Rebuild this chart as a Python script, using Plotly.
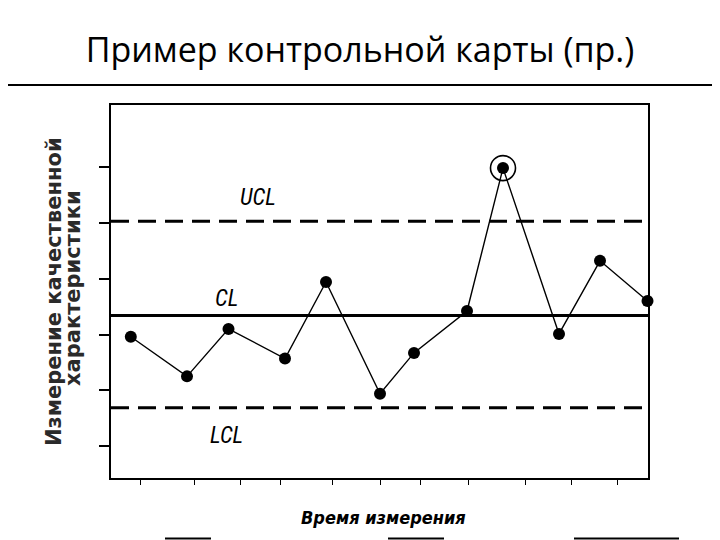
import plotly.graph_objects as go

# Data
time_values = [1.98, 7.6, 11.75, 17.4, 21.5, 26.9, 30.3, 35.6, 39.2, 44.8, 48.9, 53.65]
measurements = [2.96, 2.25, 3.10, 2.57, 3.94, 1.94, 2.67, 3.42, 5.98, 3.01, 4.32, 3.60]
out_of_control_index = 8
cl_value = 3.34
ucl_value = 5.03
lcl_value = 1.69
x_tick_values = [2.9, 8.3, 12.9, 16.9, 22.1, 26.9, 30.9, 35.7, 41.4, 46.0, 50.6]
y_tick_values = [1, 2, 3, 4, 5, 6]
limit_labels = ["UCL", "CL", "LCL"]
limit_label_x = [14.7, 11.5, 11.5]
limit_label_y = [5.46, 3.64, 1.2]
title_text = "Пример контрольной карты (пр.)"
y_title_lines = ["Измерение качественной", "характеристики"]
x_title_text = "Время измерения"

x_range = [0, 53.7]
y_range = [0.43, 7.11]

# page body has an 8px margin: figure sits at (8, 8)
W, H = 712, 532
L, R, T, B = 103, 72, 97, 62
PW, PH = W - L - R, H - T - B


def px_x(X):  # screen x -> paper x
    return (X - 8 - L) / PW


def px_y(Y):  # screen y -> paper y
    return (H - B - (Y - 8)) / PH


fig = go.Figure()

for val, dash in [(ucl_value, True), (cl_value, False), (lcl_value, True)]:
    fig.add_trace(go.Scatter(x=x_range, y=[val, val], mode="lines",
                             line=dict(color="black", width=3, dash="18px,9px" if dash else "solid"),
                             hoverinfo="skip", showlegend=False))

fig.add_trace(go.Scatter(x=time_values, y=measurements, mode="lines+markers",
                         line=dict(color="black", width=1.4),
                         marker=dict(color="black", size=12, symbol="circle"),
                         showlegend=False, cliponaxis=False))

fig.add_trace(go.Scatter(x=[time_values[out_of_control_index]], y=[measurements[out_of_control_index]],
                         mode="markers",
                         marker=dict(symbol="circle-open", size=25, color="black", line=dict(width=1.6)),
                         showlegend=False, cliponaxis=False))

label_font = dict(family="Liberation Sans Narrow, Arial Narrow, Roboto Condensed, DejaVu Sans Condensed, Liberation Sans",
                  size=23, color="black")
for lab, lx, ly in zip(limit_labels, limit_label_x, limit_label_y):
    fig.add_annotation(x=lx, y=ly, text="<i>" + lab + "</i>", showarrow=False, font=label_font)

# y-axis title as two rotated lines
for line, X, Y in zip(y_title_lines, [54, 73], [292, 288]):
    fig.add_annotation(xref="paper", yref="paper", x=px_x(X), y=px_y(Y), text="<b>" + line + "</b>",
                       textangle=-90, showarrow=False, xanchor="center", yanchor="middle",
                       font=dict(family="DejaVu Sans", size=21, color="#2a2a2a"))

fig.add_annotation(xref="paper", yref="paper", x=px_x(383), y=px_y(517), text="<b><i>" + x_title_text + "</i></b>",
                   showarrow=False, xanchor="center", yanchor="middle",
                   font=dict(family="Liberation Sans Narrow, Arial Narrow, DejaVu Sans Condensed, Liberation Sans",
                             size=18, color="black"))

fig.update_xaxes(range=x_range, showgrid=False, zeroline=False, showline=True, linecolor="black",
                 linewidth=2, mirror=True, tickmode="array", tickvals=x_tick_values,
                 ticktext=[""] * len(x_tick_values), ticks="outside", ticklen=5, tickwidth=1,
                 tickcolor="black")
fig.update_yaxes(range=y_range, showgrid=False, zeroline=False, showline=True, linecolor="black",
                 linewidth=2, mirror=True, tickmode="array", tickvals=y_tick_values,
                 ticktext=[""] * len(y_tick_values), ticks="outside", ticklen=10, tickwidth=2,
                 tickcolor="black")

shapes = [
    dict(type="line", xref="paper", yref="paper", x0=px_x(8), x1=px_x(720),
         y0=px_y(85), y1=px_y(85), line=dict(color="black", width=2)),
    dict(type="line", xref="paper", yref="paper", x0=px_x(718), x1=px_x(718),
         y0=px_y(172), y1=px_y(230), line=dict(color="black", width=2)),
]
for a, b in [(165, 211), (388, 444), (574, 679)]:
    shapes.append(dict(type="line", xref="paper", yref="paper", x0=px_x(a), x1=px_x(b),
                       y0=px_y(538.5), y1=px_y(538.5), line=dict(color="black", width=2)))

fig.update_layout(
    width=W, height=H,
    margin=dict(l=L, r=R, t=T, b=B),
    plot_bgcolor="white", paper_bgcolor="white",
    title=dict(text=title_text, x=(360 - 8) / W, xanchor="center", y=1 - (50 - 8) / H, yanchor="middle",
               font=dict(family="Open Sans", size=34, color="black")),
    shapes=shapes,
)

fig.write_html("out.html")
